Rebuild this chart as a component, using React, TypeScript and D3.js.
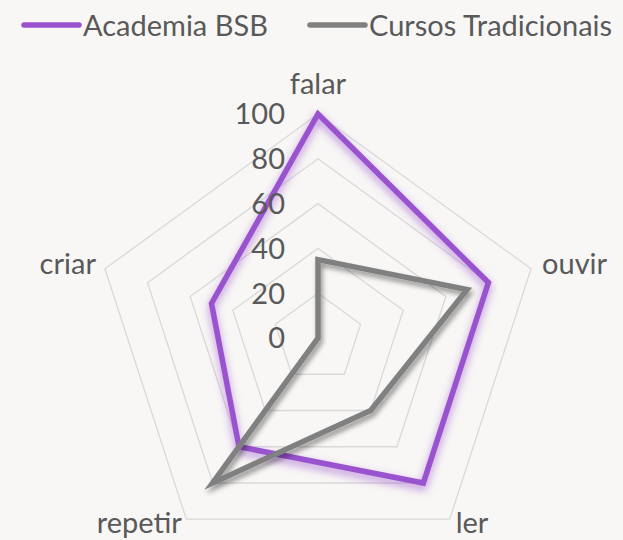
import React from "react";
import * as d3 from "d3";

const categories = ["falar", "ouvir", "ler", "repetir", "criar"];
const academiaBSB = [100, 80, 80, 60, 50];
const cursosTradicionais = [35, 70, 40, 80, 0];
const tickValues = [0, 20, 40, 60, 80, 100];
const seriesNames = ["Academia BSB", "Cursos Tradicionais"];
const seriesColors = ["#9A52CE", "#808080"];

export default function App() {
  const W = 623, H = 540, cx = 318, cy = 338, R = 224;
  const r = d3.scaleLinear().domain([0, 100]).range([0, R]);
  const n = categories.length;
  const ang = (i: number) => -Math.PI / 2 + (i * 2 * Math.PI) / n;
  const pt = (i: number, v: number): [number, number] => [
    cx + r(v) * Math.cos(ang(i)),
    cy + r(v) * Math.sin(ang(i)),
  ];
  const closed = d3.line().curve(d3.curveLinearClosed);
  const font = "Lato, 'Open Sans', sans-serif";
  const textColor = "#595959";

  const gridLevels = tickValues.filter((t) => t > 0);
  const series = [academiaBSB, cursosTradicionais];

  const labelPos = categories.map((c, i) => {
    const [x, y] = pt(i, 100);
    if (i === 0) return { x, y: y - 20, anchor: "middle" };
    if (i === 1) return { x: x + 11, y: y + 5, anchor: "start" };
    if (i === 2) return { x: x + 6, y: y + 14, anchor: "start" };
    if (i === 3) return { x: x - 47, y: y + 14, anchor: "middle" };
    return { x: x - 9, y: y + 5, anchor: "end" };
  });

  return (
    <div style={{ position: "absolute", left: 0, top: 0, width: W, height: H }}>
      <svg width={W} height={H} style={{ display: "block" }}>
        <defs>
          <filter id="glowP" x="-20%" y="-20%" width="140%" height="140%">
            <feDropShadow dx="0" dy="4" stdDeviation="4" floodColor="#9A52CE" floodOpacity="0.7" />
          </filter>
          <filter id="shadowG" x="-20%" y="-20%" width="140%" height="140%">
            <feDropShadow dx="2" dy="4" stdDeviation="2.5" floodColor="#000" floodOpacity="0.4" />
          </filter>
        </defs>
        <rect width={W} height={H} fill="#F8F7F5" />
        {gridLevels.map((lv) => (
          <path
            key={lv}
            d={closed(categories.map((_, i) => pt(i, lv))) || ""}
            fill="none"
            stroke="#D9D9D9"
            strokeWidth={1.3}
          />
        ))}
        {series.map((vals, si) => (
          <path
            key={si}
            d={closed(vals.map((v, i) => pt(i, v))) || ""}
            fill="none"
            stroke={seriesColors[si]}
            strokeWidth={5.5}
            strokeLinejoin="miter"
            filter={si === 0 ? "url(#glowP)" : "url(#shadowG)"}
          />
        ))}
        {tickValues.map((t) => (
          <text
            key={t}
            x={cx - 33}
            y={cy - r(t)}
            dy="0.36em"
            textAnchor="end"
            fontFamily={font}
            fontSize={29}
            fill={textColor}
          >
            {t}
          </text>
        ))}
        {categories.map((c, i) => (
          <text
            key={c}
            x={labelPos[i].x}
            y={labelPos[i].y}
            textAnchor={labelPos[i].anchor as any}
            fontFamily={font}
            fontSize={29}
            fill={textColor}
          >
            {c}
          </text>
        ))}
        {seriesNames.map((name, si) => {
          const x0 = si === 0 ? 24 : 310;
          return (
            <g key={name}>
              <line
                x1={x0}
                x2={x0 + 55}
                y1={25}
                y2={25}
                stroke={seriesColors[si]}
                strokeWidth={5.5}
                strokeLinecap="round"
              />
              <text x={x0 + 59} y={36} fontFamily={font} fontSize={29} fill={textColor}>
                {name}
              </text>
            </g>
          );
        })}
      </svg>
    </div>
  );
}
